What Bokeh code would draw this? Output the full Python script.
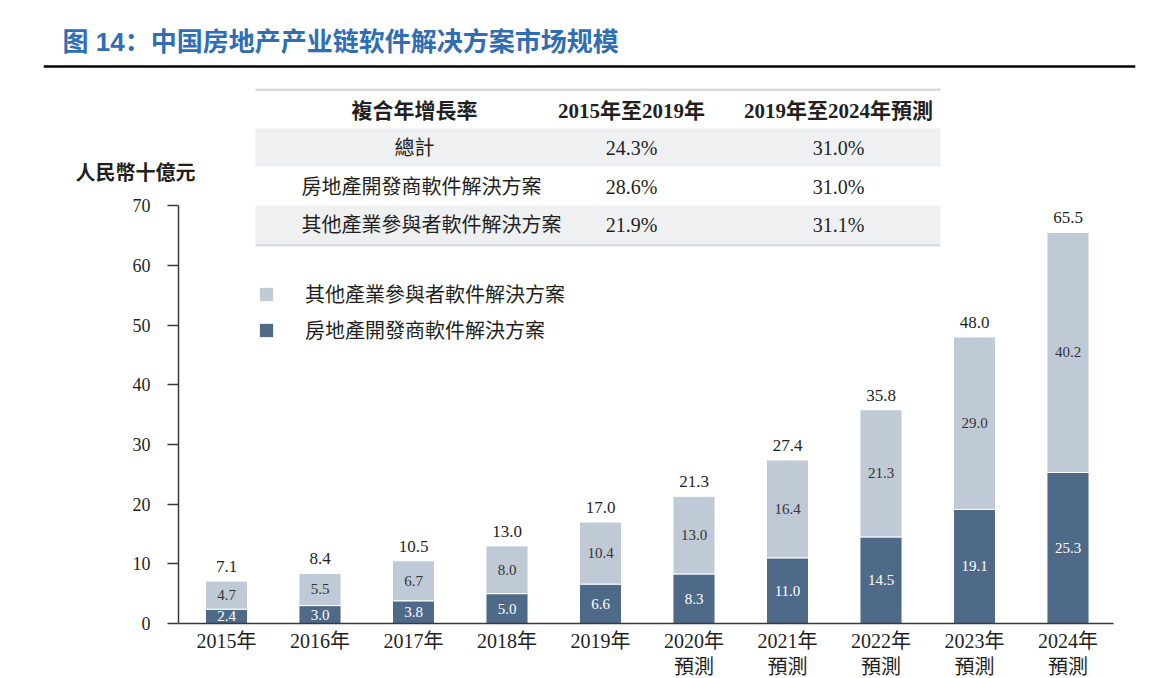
from bokeh.plotting import figure
from bokeh.models import (ColumnDataSource, FixedTicker, Label, Span, BoxAnnotation,
                          Legend, LegendItem, Range1d)
from bokeh.core.properties import value
from bokeh.embed import file_html
from bokeh.resources import INLINE

# ---------------- data ----------------
years = ["2015年", "2016年", "2017年", "2018年", "2019年",
         "2020年\n預測", "2021年\n預測", "2022年\n預測", "2023年\n預測", "2024年\n預測"]
developer = [2.4, 3.0, 3.8, 5.0, 6.6, 8.3, 11.0, 14.5, 19.1, 25.3]
other = [4.7, 5.5, 6.7, 8.0, 10.4, 13.0, 16.4, 21.3, 29.0, 40.2]
totals = [7.1, 8.4, 10.5, 13.0, 17.0, 21.3, 27.4, 35.8, 48.0, 65.5]
y_ticks = [0, 10, 20, 30, 40, 50, 60, 70]

series_names = ["其他產業參與者軟件解決方案", "房地產開發商軟件解決方案"]

cagr_header = ["複合年增長率", "2015年至2019年", "2019年至2024年預測"]
cagr_rows = ["總計", "房地產開發商軟件解決方案", "其他產業參與者軟件解決方案"]
cagr_2015_2019 = ["24.3%", "28.6%", "21.9%"]
cagr_2019_2024 = ["31.0%", "31.0%", "31.1%"]

title_text = "图 14：中国房地产产业链软件解决方案市场规模"
unit_text = "人民幣十億元"

# ---------------- style ----------------
DARK = "#4F6A88"
LIGHT = "#BFCAD6"
BAND = "#EEF0F2"
TXT = "#231F20"
SERIF_CJK = "Liberation Serif, Noto Sans CJK TC"
CJK = "Noto Sans CJK TC"

# page-pixel -> data helpers (layout only)
X0_PAGE, X_STEP = 226.0, 93.5
Y0_PAGE, Y_STEP = 623.0, 5.97


def X(px):
    return (px - X0_PAGE) / X_STEP


def Y(py):
    return (Y0_PAGE - py) / Y_STEP


W, H = 1176, 678
FL, FR = 43, 1135
p = figure(width=W, height=H, output_backend="svg", toolbar_location=None,
           x_range=Range1d(X(FL), X(FR)), y_range=Range1d(Y(H), Y(0)),
           min_border_left=FL, min_border_right=W - FR,
           min_border_top=0, min_border_bottom=0,
           outline_line_color=None, background_fill_color="white",
           border_fill_color="white")
p.xgrid.visible = False
p.ygrid.visible = False

# ---------------- bars ----------------
xs = list(range(len(years)))
src = ColumnDataSource(dict(
    x=xs,
    dev=developer,
    tot=totals,
    dev_mid=[d / 2 for d in developer],
    oth_mid=[(d + t) / 2 for d, t in zip(developer, totals)],
    dev_lbl=[f"{v:.1f}" for v in developer],
    oth_lbl=[f"{v:.1f}" for v in other],
    tot_lbl=[f"{v:.1f}" for v in totals],
))

bw = 0.45
r_dark = p.vbar(x="x", bottom=0, top="dev", width=bw, source=src,
                fill_color=DARK, line_color="white", line_width=1)
r_light = p.vbar(x="x", bottom="dev", top="tot", width=bw, source=src,
                 fill_color=LIGHT, line_color="white", line_width=1)

p.text(x="x", y="tot", text="tot_lbl", source=src, text_align="center",
       text_baseline="bottom", y_offset=-9, text_font=value("Liberation Serif"),
       text_font_size="17px", text_color=TXT)
p.text(x="x", y="dev_mid", text="dev_lbl", source=src, text_align="center",
       text_baseline="middle", text_font=value("Liberation Serif"),
       text_font_size="15px", text_color="white")
p.text(x="x", y="oth_mid", text="oth_lbl", source=src, text_align="center",
       text_baseline="middle", text_font=value("Liberation Serif"),
       text_font_size="15px", text_color="#333333")

# ---------------- axes ----------------
yax = p.yaxis[0]
yax.fixed_location = X(178)
yax.ticker = FixedTicker(ticks=y_ticks)
yax.bounds = (0, 70)
yax.major_tick_out = 11
yax.major_tick_in = 0
yax.minor_tick_out = 0
yax.minor_tick_in = 0
yax.major_label_standoff = 17
yax.major_label_text_font = "Liberation Serif"
yax.major_label_text_font_size = "18px"
yax.major_label_text_color = TXT
yax.axis_line_color = "#3a3a3a"
yax.axis_line_width = 1.5
yax.major_tick_line_color = "#3a3a3a"
yax.major_tick_line_width = 1.5

xax = p.xaxis[0]
xax.fixed_location = 0
xax.ticker = FixedTicker(ticks=xs)
xax.major_label_overrides = {i: years[i] for i in xs}
xax.bounds = (X(178), X(1113))
xax.major_tick_out = 0
xax.major_tick_in = 0
xax.minor_tick_out = 0
xax.minor_tick_in = 0
xax.major_label_standoff = 6
xax.major_label_text_font = SERIF_CJK
xax.major_label_text_font_size = "20px"
xax.major_label_text_color = TXT
xax.axis_line_color = "#3a3a3a"
xax.axis_line_width = 1.5

# ---------------- title ----------------
p.add_layout(Label(x=X(62), y=Y(41), text=title_text, text_align="left",
                   text_baseline="middle", text_font="Liberation Sans, Noto Sans CJK SC",
                   text_font_style="bold", text_font_size="26px", text_color="#2F6DB5"))
p.add_layout(Span(location=Y(66), dimension="width", line_color="black", line_width=2.5))

p.add_layout(Label(x=X(75), y=Y(171), text=unit_text, text_align="left",
                   text_baseline="middle", text_font=CJK, text_font_style="bold",
                   text_font_size="20px", text_color=TXT))

# ---------------- CAGR table ----------------
TL, TR = X(255), X(940)
for top_px, bot_px, col in [(88, 90.5, "#D7DCE1"), (128, 166, BAND),
                            (205, 243.5, BAND), (243.5, 246, "#D7DCE1")]:
    p.add_layout(BoxAnnotation(left=TL, right=TR, top=Y(top_px), bottom=Y(bot_px),
                               fill_color=col, fill_alpha=1, line_alpha=0,
                               level="underlay"))

col_x = [X(414), X(631), X(838)]
row_y = [Y(147), Y(186), Y(224)]
p.text(x=col_x, y=[Y(110)] * 3, text=cagr_header, text_align="center",
       text_baseline="middle", text_font=value(SERIF_CJK), text_font_style="bold",
       text_font_size="21px", text_color=TXT)
p.text(x=[col_x[0]], y=[row_y[0]], text=[cagr_rows[0]], text_align="center",
       text_baseline="middle", text_font=value(SERIF_CJK),
       text_font_size="20px", text_color=TXT)
p.text(x=[X(301)] * 2, y=row_y[1:], text=cagr_rows[1:], text_align="left",
       text_baseline="middle", text_font=value(SERIF_CJK),
       text_font_size="20px", text_color=TXT)
p.text(x=[col_x[1]] * 3, y=row_y, text=cagr_2015_2019, text_align="center",
       text_baseline="middle", text_font=value(SERIF_CJK),
       text_font_size="20px", text_color=TXT)
p.text(x=[col_x[2]] * 3, y=row_y, text=cagr_2019_2024, text_align="center",
       text_baseline="middle", text_font=value(SERIF_CJK),
       text_font_size="20px", text_color=TXT)

# ---------------- legend ----------------
legend = Legend(items=[LegendItem(label=series_names[0], renderers=[r_light]),
                       LegendItem(label=series_names[1], renderers=[r_dark])],
                location=(257 - FL, H - 344), orientation="vertical",
                border_line_color=None, background_fill_alpha=0,
                padding=0, margin=0, spacing=7,
                glyph_width=18, glyph_height=18, label_standoff=30,
                label_height=18, label_text_font=CJK,
                label_text_font_size="20px", label_text_color=TXT)
p.add_layout(legend)

open("out.html", "w").write(file_html(p, INLINE))
